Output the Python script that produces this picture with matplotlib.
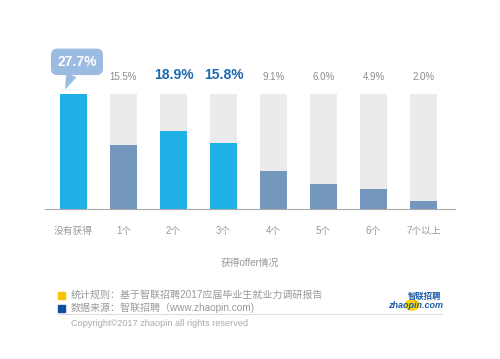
import matplotlib.pyplot as plt
from matplotlib.patches import Rectangle, Circle
import numpy as np

plt.rcParams['font.family'] = ['Liberation Sans', 'Noto Sans CJK SC', 'DejaVu Sans']

categories = ['没有获得', '1个', '2个', '3个', '4个', '5个', '6个', '7个以上']
values = [27.7, 15.5, 18.9, 15.8, 9.1, 6.0, 4.9, 2.0]
highlight = [True, False, True, True, False, False, False, False]
xlabel = '获得offer情况'
note1 = '统计规则：基于智联招聘2017应届毕业生就业力调研报告'
note2 = '数据来源：智联招聘（www.zhaopin.com)'
copyright_text = 'Copyright©2017 zhaopin all rights reserved'

bright = '#1fb0e6'
steel = '#7697bd'
track = '#ebebed'
gray_txt = '#999999'

fig = plt.figure(figsize=(5, 3.59), dpi=100)
ax = fig.add_axes([45 / 500, 150 / 359, 410 / 500, 115 / 359])

x = np.arange(len(categories))
full = max(values)
ax.bar(x, [full] * len(x), width=0.54, color=track, zorder=1)
ax.bar(x, values, width=0.54, color=[bright if h else steel for h in highlight], zorder=2)

ax.set_xlim(-0.57, 7.63)
ax.set_ylim(0, full)
for s in ['top', 'right', 'left']:
    ax.spines[s].set_visible(False)
ax.spines['bottom'].set_color('#aaaaaa')
ax.spines['bottom'].set_linewidth(0.8)
ax.set_yticks([])
ax.set_xticks(x)
ax.set_xticklabels(categories, fontsize=7, color=gray_txt)
ax.tick_params(axis='x', length=0, pad=12)
ax.set_xlabel(xlabel, fontsize=7, color=gray_txt, labelpad=16)

for i, v in enumerate(values):
    if i == 0:
        ax.annotate(f'{v:.1f}%', xy=(i - 0.17, full + 1.0), xytext=(12, 28),
                    textcoords='offset pixels', ha='center', va='center',
                    fontsize=10, fontweight='bold', color='white', annotation_clip=False,
                    bbox=dict(boxstyle='round,pad=0.45', fc='#9cbbe0', ec='none'),
                    arrowprops=dict(arrowstyle='wedge,tail_width=0.8', fc='#9cbbe0',
                                    ec='none', shrinkA=0, shrinkB=0))
    elif highlight[i]:
        ax.annotate(f'{v:.1f}%', xy=(i, full), xytext=(0, 19), textcoords='offset pixels',
                    ha='center', va='center', fontsize=10, fontweight='bold', color='#1c6bb0')
    else:
        ax.annotate(f'{v:.1f}%', xy=(i, full), xytext=(0, 17), textcoords='offset pixels',
                    ha='center', va='center', fontsize=7, color='#8a8a8a')

# footer
W, H = 500, 359
def fx(px):
    return px / W
def fy(py):
    return 1 - py / H

fig.patches.append(Rectangle((fx(58), fy(299)), 7 / W, 7 / H, transform=fig.transFigure,
                             color='#f7c500', figure=fig))
fig.patches.append(Rectangle((fx(58), fy(312)), 7 / W, 7 / H, transform=fig.transFigure,
                             color='#0d4ea0', figure=fig))
fig.text(fx(71), fy(295), note1, fontsize=7.2, color=gray_txt, va='center')
fig.text(fx(71), fy(308), note2, fontsize=7.2, color=gray_txt, va='center')
fig.add_artist(plt.Line2D([fx(58), fx(442)], [fy(314), fy(314)], color='#dddddd', lw=0.8))
fig.text(fx(71), fy(324), copyright_text, fontsize=6.6, color='#aaaaaa', va='center')

# logo
fig.patches.append(Circle((fx(412), fy(305)), 7 / W, transform=fig.transFigure,
                          color='#ffd200', figure=fig))
fig.text(fx(388), fy(306), 'zhaopin.com', fontsize=6.5, fontweight='bold', style='italic',
         color='#1a5aa8', va='center')
fig.text(fx(408), fy(297), '智联招聘', fontsize=6, fontweight='bold', color='#1a5aa8', va='center')

fig.savefig('out.png', dpi=100, facecolor='white')
